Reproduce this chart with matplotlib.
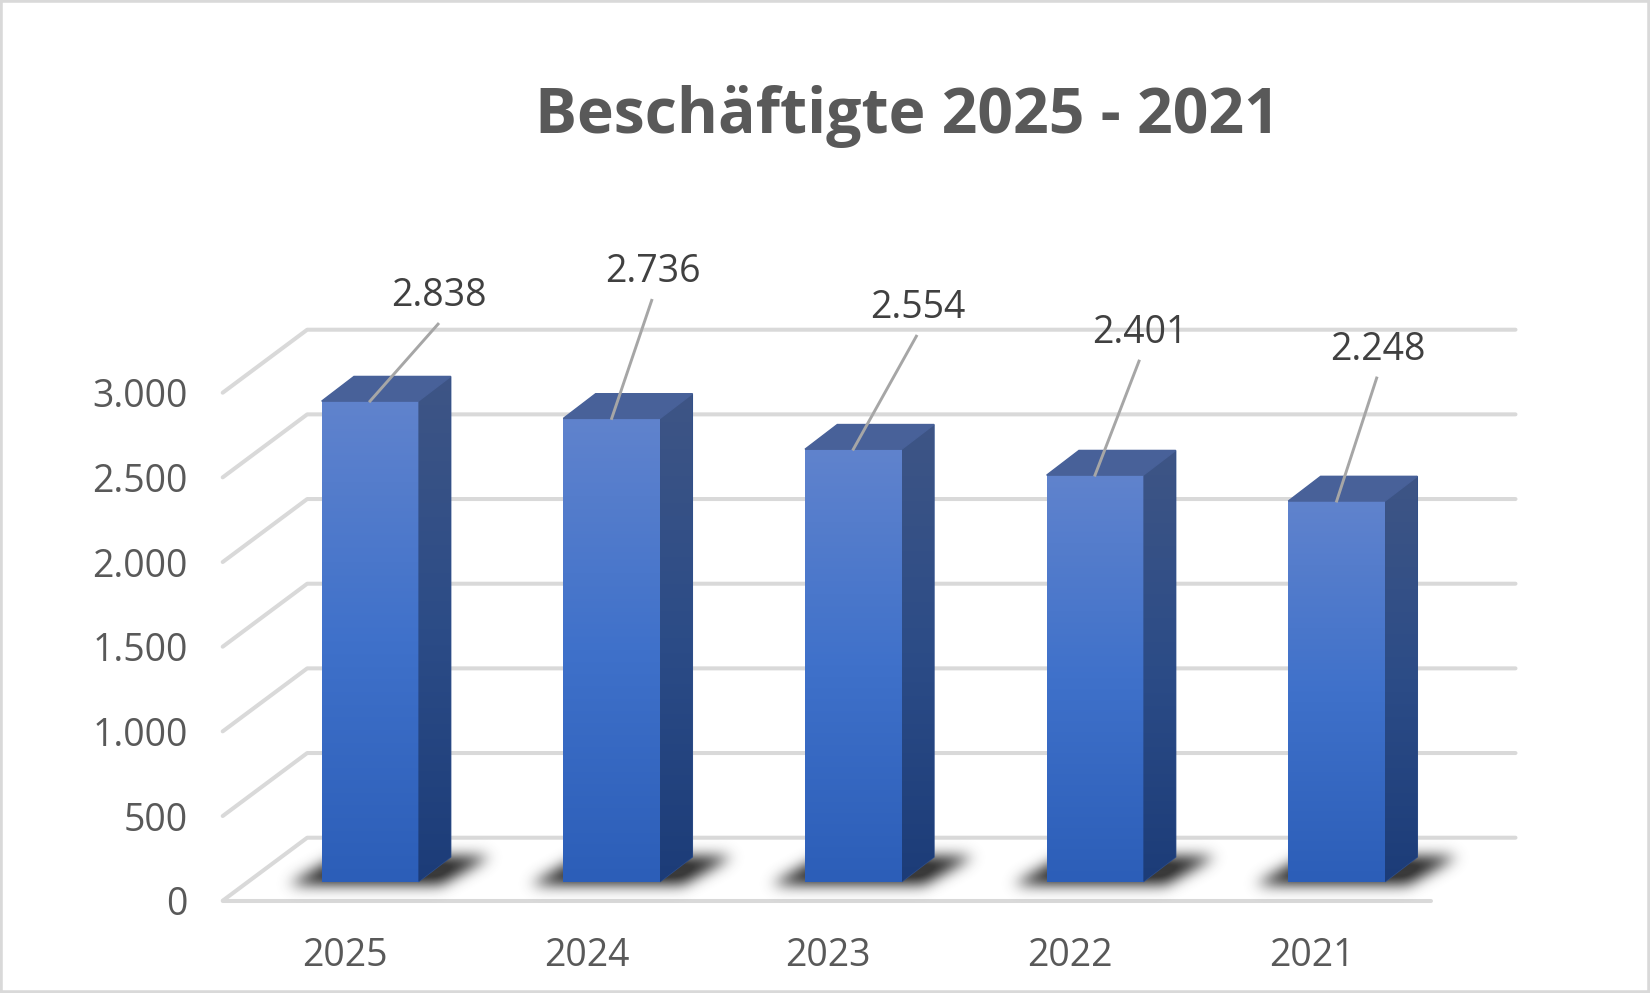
import numpy as np
import matplotlib
matplotlib.use("Agg")
import matplotlib.pyplot as plt
from matplotlib.colors import LinearSegmentedColormap, to_rgb
from matplotlib.patches import Polygon, Rectangle

years = ["2025", "2024", "2023", "2022", "2021"]
employees = [2838, 2736, 2554, 2401, 2248]
y_ticks = [0, 500, 1000, 1500, 2000, 2500, 3000]
title = "Beschäftigte 2025 - 2021"

W, H = 1650, 993
# leader line end, pixels from the middle of the bar top
leader_ends = [(68, 77), (40, 118), (63, 113), (44, 114), (40, 123)]

plt.rcParams['font.family'] = ['Open Sans', 'DejaVu Sans']
fig = plt.figure(figsize=(W / 100, H / 100), dpi=100)

# plot box is the front plane of the fake 3d room
left, right, floor, top = 222.7, 1431.0, 900.7, 392.7
ax = fig.add_axes([left / W, 1 - floor / H, (right - left) / W, (floor - top) / H])
ax.set_autoscale_on(False)
ax.set_xlim(-0.5, 4.5)
ax.set_ylim(0, 3000)
for s in ax.spines.values():
    s.set_visible(False)

px_x = 5 / (right - left)
px_y = 3000 / (floor - top)

# depth of the room and of the bars, pixels turned into data units
room_dx, room_dy = 84.5 * px_x, 63 * px_y
bar_w = 96.7 * px_x
bar_dx, bar_dy = 32.3 * px_x, 24.7 * px_y
shift_x, shift_y = 26.5 * px_x, 19 * px_y

grid_col = "#D9D9D9"
for v in y_ticks:
    ax.plot([-0.5, -0.5 + room_dx, 4.5 + room_dx], [v, v + room_dy, v + room_dy],
            color=grid_col, lw=2.9, clip_on=False, zorder=1, solid_capstyle='round')
ax.plot([-0.5, 4.5], [0, 0], color=grid_col, lw=2.9, clip_on=False, zorder=1,
        solid_capstyle='round')


def gradient(patch, stops, zorder):
    # vertical gradient clipped to the shape
    cmap = LinearSegmentedColormap.from_list("g", stops)
    xy = patch.get_path().vertices
    xy = patch.get_patch_transform().transform(xy)
    g = np.linspace(0, 1, 256).reshape(-1, 1)
    im = ax.imshow(g, cmap=cmap, aspect='auto', origin='upper', zorder=zorder,
                   extent=(xy[:, 0].min(), xy[:, 0].max(), xy[:, 1].min(), xy[:, 1].max()))
    im.set_clip_box(fig.bbox)
    im.set_clip_path(patch)


def shadow(cx):
    # blurred parallelogram on the floor behind the bar
    nx, ny, m = 340, 98, 35
    yy, xx = np.mgrid[0:ny, 0:nx]
    t = (ny - m - 0.5 - yy) / (ny - 2 * m)
    x0 = m + t * 50
    mask = ((xx > x0) & (xx < x0 + 152) & (t >= 0) & (t <= 1)).astype(float)
    k = np.exp(-np.arange(-20, 21) ** 2 / (2 * 7 ** 2))
    k = k / k.sum()
    mask = np.apply_along_axis(lambda r: np.convolve(r, k, mode='same'), 0, mask)
    mask = np.apply_along_axis(lambda r: np.convolve(r, k, mode='same'), 1, mask)
    rgba = np.zeros((ny, nx, 4))
    rgba[..., :3] = to_rgb("#3A3A3A")
    rgba[..., 3] = np.clip(mask * 1.15, 0, 1)
    x_start = cx + (-82 - m) * px_x
    y_start = shift_y + (-3 - m) * px_y
    im = ax.imshow(rgba, aspect='auto', zorder=2, origin='upper',
                   extent=(x_start, x_start + nx * px_x, y_start, y_start + ny * px_y))
    im.set_clip_box(fig.bbox)


x = np.arange(len(years))
bars = ax.bar(x + shift_x, employees, bar_w, bottom=shift_y, color="#4472C4", zorder=3)

for i, v in enumerate(employees):
    cx = x[i] + shift_x
    x0, x1 = cx - bar_w / 2, cx + bar_w / 2
    y0, y1 = shift_y, shift_y + v
    shadow(cx)
    gradient(bars[i], ["#6083CD", "#3F71CA", "#2C5EB8"], 4)
    side = Polygon([(x1, y0), (x1 + bar_dx, y0 + bar_dy), (x1 + bar_dx, y1 + bar_dy), (x1, y1)],
                   closed=True, transform=ax.transData, color="#2F4F8A", zorder=3, clip_on=False)
    ax.add_patch(side)
    gradient(side, ["#3E5585", "#2C4C87", "#1C3C78"], 4)
    ax.add_patch(Polygon([(x0, y1), (x0 + bar_dx, y1 + bar_dy), (x1 + bar_dx, y1 + bar_dy), (x1, y1)],
                         closed=True, color="#486199", zorder=4, clip_on=False))

    # value label with its leader line
    dx, dy = leader_ends[i]
    ex, ey = cx + dx * px_x, y1 + dy * px_y
    ax.plot([cx, ex], [y1, ey], color="#A6A6A6", lw=2.1, zorder=5, clip_on=False)
    ax.text(ex + 1 * px_x, ey + 28 * px_y, f"{v:,}".replace(",", "."), ha='center', va='center',
            fontsize=27, color="#404040", zorder=6, clip_on=False)

ax.set_xlim(-0.5, 4.5)
ax.set_ylim(0, 3000)
ax.set_xticks(x + 1.5 * px_x)
ax.set_xticklabels(years)
ax.set_yticks(y_ticks)
ax.set_yticklabels([f"{t:,}".replace(",", ".") for t in y_ticks])
ax.tick_params(axis='both', length=0, labelsize=27, labelcolor="#595959")
ax.tick_params(axis='y', pad=25)
ax.tick_params(axis='x', pad=26)

fig.text(907 / W, 1 - 117 / H, title, ha='center', va='center', fontsize=45,
         fontweight='bold', color="#595959")

# chart frame
fig.add_artist(Rectangle((0, 0), 1, 1, transform=fig.transFigure, fill=False,
                         edgecolor=grid_col, lw=4))

fig.savefig("out.png", dpi=100)
